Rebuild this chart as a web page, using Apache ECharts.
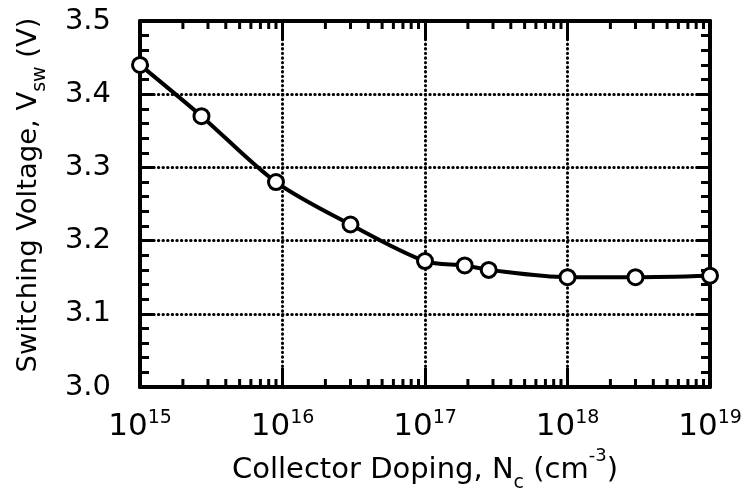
<!DOCTYPE html>
<html>
<head>
<meta charset="utf-8">
<script src="https://cdn.jsdelivr.net/npm/echarts@6/dist/echarts.min.js"></script>
<style>
  html, body { margin: 0; padding: 0; background: #fff; }
  #chart { width: 742px; height: 488px; }
</style>
</head>
<body>
<div id="chart"></div>
<script>
// Collector doping (cm^-3) and the resulting switching voltage (V)
const dopingLevels = [1e15, 2.7e15, 9e15, 3e16, 1e17, 1.9e17, 2.8e17, 1e18, 3e18, 1e19];
const switchingVoltage = [3.44, 3.37, 3.28, 3.222, 3.172, 3.166, 3.16, 3.15, 3.15, 3.152];

// Axis ticks
const decadeExponents = [15, 16, 17, 18, 19];
const minorMultipliers = [2, 3, 4, 5, 6, 7, 8, 9];
const voltageMin = 3.0;
const voltageMax = 3.5;
const voltageStep = 0.1;

const FONT = '"DejaVu Sans", "Liberation Sans", Arial, sans-serif';
const INK = { color: '#000' };

// Minor log ticks at 2..9 x 10^n inside each decade
const minorTickValues = [];
for (let i = 0; i < decadeExponents.length - 1; i++) {
  const base = Math.pow(10, decadeExponents[i]);
  minorMultipliers.forEach(m => minorTickValues.push(m * base));
}

const chart = echarts.init(document.getElementById('chart'), null, { renderer: 'canvas' });

const frameLine = { show: true, onZero: false, lineStyle: { color: '#000', width: 4 } };
const gridDots = { show: true, lineStyle: { color: '#000', width: 3, type: [0.4, 4.2], cap: 'round' } };

const option = {
  backgroundColor: '#fff',
  animation: false,
  grid: { left: 140, right: 32, top: 21, bottom: 101, outerBoundsMode: 'none', containLabel: false },
  xAxis: [
    {
      type: 'log',
      logBase: 10,
      min: Math.pow(10, decadeExponents[0]),
      max: Math.pow(10, decadeExponents[decadeExponents.length - 1]),
      position: 'bottom',
      axisLine: frameLine,
      axisTick: { show: true, inside: true, length: 19, lineStyle: { color: '#000', width: 3 } },
      minorTick: { show: false },
      splitLine: gridDots,
      axisLabel: {
        margin: 22,
        color: '#000',
        formatter: v => '{b|10}{sup|' + Math.round(Math.log10(v)) + '}',
        rich: {
          b: Object.assign({ fontFamily: FONT, fontSize: 31, lineHeight: 36 }, INK),
          sup: Object.assign({ fontFamily: FONT, fontSize: 19, lineHeight: 19, verticalAlign: 'top' }, INK)
        }
      },
      name: '{t|Collector Doping, N}{sub|c}{t| (cm}{sup|-3}{t|)}',
      nameLocation: 'middle',
      nameMoveOverlap: false,
      nameGap: 60,
      nameTextStyle: {
        rich: {
          t: Object.assign({ fontFamily: FONT, fontSize: 29, lineHeight: 46 }, INK),
          sub: Object.assign({ fontFamily: FONT, fontSize: 19, lineHeight: 19, verticalAlign: 'bottom' }, INK),
          sup: Object.assign({ fontFamily: FONT, fontSize: 18, lineHeight: 18, verticalAlign: 'top' }, INK)
        }
      }
    },
    {
      type: 'log',
      logBase: 10,
      min: Math.pow(10, decadeExponents[0]),
      max: Math.pow(10, decadeExponents[decadeExponents.length - 1]),
      position: 'top',
      axisLine: frameLine,
      axisTick: { show: true, inside: true, length: 19, lineStyle: { color: '#000', width: 3 } },
      axisLabel: { show: false },
      splitLine: { show: false }
    }
  ],
  yAxis: [
    {
      type: 'value',
      min: voltageMin,
      max: voltageMax,
      interval: voltageStep,
      position: 'left',
      axisLine: frameLine,
      axisTick: { show: true, inside: true, length: 14, lineStyle: { color: '#000', width: 3 } },
      minorTick: { show: true, splitNumber: 5, length: 9, lineStyle: { color: '#000', width: 3 } },
      splitLine: gridDots,
      axisLabel: Object.assign({
        margin: 29,
        fontFamily: FONT,
        fontSize: 29,
        formatter: v => v.toFixed(1)
      }, INK),
      name: '{t|Switching Voltage, V}{sub|sw}{t| (V)}',
      nameLocation: 'middle',
      nameRotate: 90,
      nameMoveOverlap: false,
      nameGap: 90,
      nameTextStyle: {
        padding: [0, 0, 0, 18],
        rich: {
          t: Object.assign({ fontFamily: FONT, fontSize: 27.4, lineHeight: 42 }, INK),
          sub: Object.assign({ fontFamily: FONT, fontSize: 19, lineHeight: 19, verticalAlign: 'bottom' }, INK)
        }
      }
    },
    {
      type: 'value',
      min: voltageMin,
      max: voltageMax,
      interval: voltageStep,
      position: 'right',
      axisLine: frameLine,
      axisTick: { show: true, inside: true, length: 14, lineStyle: { color: '#000', width: 3 } },
      minorTick: { show: true, splitNumber: 5, length: 9, lineStyle: { color: '#000', width: 3 } },
      axisLabel: { show: false },
      splitLine: { show: false }
    }
  ],
  series: [
    {
      // minor decade ticks along the top and bottom edges
      type: 'custom',
      xAxisIndex: 0,
      yAxisIndex: 0,
      silent: true,
      z: 1,
      clip: false,
      data: minorTickValues.map(v => [v]),
      renderItem: (params, api) => {
        const v = api.value(0);
        const bottom = api.coord([v, voltageMin]);
        const top = api.coord([v, voltageMax]);
        const style = { stroke: '#000', lineWidth: 3 };
        return {
          type: 'group',
          children: [
            { type: 'line', shape: { x1: bottom[0], y1: bottom[1], x2: bottom[0], y2: bottom[1] - 8 }, style },
            { type: 'line', shape: { x1: top[0], y1: top[1], x2: top[0], y2: top[1] + 8 }, style }
          ]
        };
      }
    },
    {
      type: 'line',
      xAxisIndex: 0,
      yAxisIndex: 0,
      data: dopingLevels.map((d, i) => [d, switchingVoltage[i]]),
      smooth: 0.3,
      symbol: 'circle',
      symbolSize: 15,
      clip: false,
      lineStyle: { color: '#000', width: 4 },
      itemStyle: { color: '#fff', borderColor: '#000', borderWidth: 3 },
      z: 3
    }
  ]
};

chart.setOption(option);
</script>
</body>
</html>
